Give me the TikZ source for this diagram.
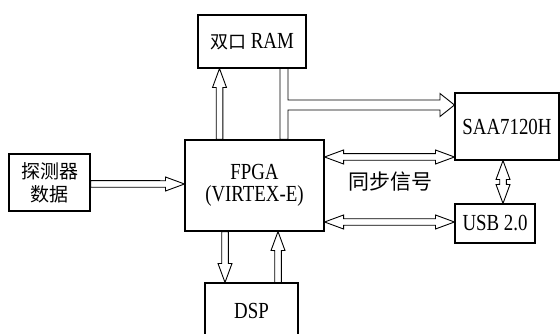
\documentclass[tikz,border=0pt]{standalone}
\usepackage{fontspec}
\setmainfont{Liberation Serif}[FakeStretch=0.82]
\newfontfamily\cjk{Noto Sans CJK SC}
\usetikzlibrary{calc}
\tikzset{
  blk/.style={to path={
    -- ($(\tikztostart)!3.3pt!90:(\tikztotarget)$)
    -- ($(\tikztotarget)!19.285pt!-9.853:(\tikztostart)$)
    -- ($(\tikztotarget)!20.248pt!-20.225:(\tikztostart)$)
    -- (\tikztotarget)
    -- ($(\tikztotarget)!20.248pt!20.225:(\tikztostart)$)
    -- ($(\tikztotarget)!19.285pt!9.853:(\tikztostart)$)
    -- ($(\tikztostart)!3.3pt!-90:(\tikztotarget)$)
    -- cycle}},
  dblk/.style={to path={
    -- ($(\tikztostart)!20.248pt!20.225:(\tikztotarget)$)
    -- ($(\tikztostart)!19.285pt!9.853:(\tikztotarget)$)
    -- ($(\tikztotarget)!19.285pt!-9.853:(\tikztostart)$)
    -- ($(\tikztotarget)!20.248pt!-20.225:(\tikztostart)$)
    -- (\tikztotarget)
    -- ($(\tikztotarget)!20.248pt!20.225:(\tikztostart)$)
    -- ($(\tikztotarget)!19.285pt!9.853:(\tikztostart)$)
    -- ($(\tikztostart)!19.285pt!-9.853:(\tikztotarget)$)
    -- ($(\tikztostart)!20.248pt!-20.225:(\tikztotarget)$)
    -- cycle}}
}
\begin{document}
\begin{tikzpicture}[x=1pt,y=-1pt,
  box/.style={draw,line width=1.1pt,inner sep=0pt,font=\fontsize{23}{22}\selectfont},
  conn/.style={draw,line width=0.9pt,line join=miter}]
\useasboundingbox (0,0) rectangle (560,334);
\clip (0,0) rectangle (560,334);
\node[box,minimum width=108,minimum height=53] (ram) at (252,41.5) {{\cjk\fontsize{18}{21}\selectfont 双口} RAM};
\node[box,minimum width=139,minimum height=91,align=center] (fpga) at (254.5,185.5) {FPGA\\(VIRTEX-E)};
\node[box,minimum width=81,minimum height=57,align=center,font=\cjk\fontsize{19}{23}\selectfont] (det) at (49.5,182.5) {探测器\\数据};
\node[box,minimum width=93,minimum height=56] (dsp) at (251.5,311) {DSP};
\node[box,minimum width=104,minimum height=67] (saa) at (507,126.5) {SAA7120H};
\node[box,minimum width=80,minimum height=39] (usb) at (495,223.5) {USB 2.0};
\node[inner sep=0pt,font=\cjk\fontsize{21}{23}\selectfont] (sync) at (390,182) {同步信号};
% helper coordinates
\coordinate (xa) at (219.5,0);
\coordinate (yc) at (0,184);
\coordinate (yd) at (0,157);
\coordinate (ye) at (0,222);
\coordinate (xf) at (503,0);
\coordinate (xg) at (225,0);
\coordinate (xh) at (278,0);
\coordinate (bx1) at (280,0);
\coordinate (bx2) at (288,0);
\coordinate (by1) at (0,100);
\coordinate (by2) at (0,110);
\coordinate (bym) at (0,105);
\coordinate (byt) at (0,93.5);
\coordinate (byb) at (0,116.5);
\coordinate (hb) at (440,0);
% connectors
\path[conn] (fpga.north -| xa) to[blk] (ram.south -| xa);
\path[conn] (ram.south -| bx1) -- (fpga.north -| bx1) -- (fpga.north -| bx2)
   -- (bx2 |- by2) -- (hb |- by2) -- (hb |- byb) -- (saa.west |- bym)
   -- (hb |- byt) -- (hb |- by1) -- (bx2 |- by1) -- (ram.south -| bx2) -- cycle;
\path[conn] (det.east |- yc) to[blk] (fpga.west |- yc);
\path[conn] (fpga.east |- yd) to[dblk] (saa.west |- yd);
\path[conn] (fpga.east |- ye) to[dblk] (usb.west |- ye);
\path[conn] (saa.south -| xf) to[dblk] (usb.north -| xf);
\path[conn] (fpga.south -| xg) to[blk] (dsp.north -| xg);
\path[conn] (dsp.north -| xh) to[blk] (fpga.south -| xh);
\end{tikzpicture}
\end{document}
